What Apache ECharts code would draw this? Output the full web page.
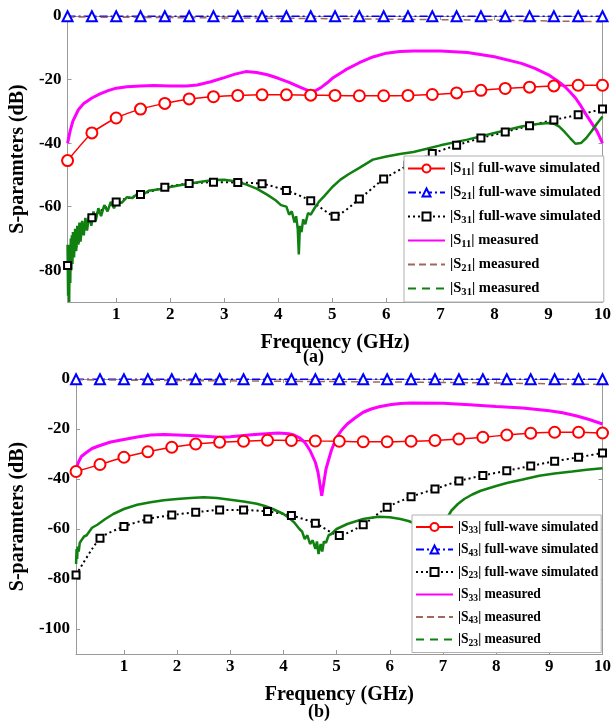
<!DOCTYPE html>
<html>
<head>
<meta charset="utf-8">
<title>S-parameters</title>
<script src="https://cdn.jsdelivr.net/npm/echarts@6.0.0/dist/echarts.min.js"></script>
<style>
  html, body { margin: 0; padding: 0; background: #fff; }
  #chart { width: 614px; height: 724px; }
</style>
</head>
<body>
<div id="chart"></div>
<script>
"use strict";

// marker positions of the full-wave simulated curves (GHz)
const simFreq = [0.1, 0.55, 1.0, 1.45, 1.9, 2.35, 2.8, 3.25, 3.7, 4.15, 4.6, 5.05,
  5.5, 5.95, 6.4, 6.85, 7.3, 7.75, 8.2, 8.65, 9.1, 9.55, 10.0];

// ---- (a) port 1 excitation ----
const s11SimA = [-45.5, -36.8, -32.1, -29.3, -27.5, -26.1, -25.4, -25.0, -24.8, -24.8, -24.9, -25.0,
  -25.1, -25.1, -25.0, -24.7, -24.2, -23.4, -22.8, -22.4, -22.0, -21.8, -21.8];
const s21SimA = [-0.1, -0.1, -0.1, -0.1, -0.1, -0.1, -0.1, -0.1, -0.1, -0.1, -0.1, -0.1,
  -0.1, -0.1, -0.1, -0.1, -0.1, -0.1, -0.1, -0.1, -0.1, -0.1, -0.1];
const s31SimA = [-78.5, -63.5, -58.5, -56.2, -53.9, -52.7, -52.3, -52.4, -52.8, -54.9, -58.1, -63.0,
  -57.6, -51.3, -47.0, -43.3, -40.7, -38.4, -36.5, -34.5, -32.7, -31.1, -29.3];

// measured, [GHz, dB]
const s11MeasA = [[0.1, -40], [0.15, -36], [0.2, -33], [0.3, -29.5], [0.4, -27.5], [0.55, -25.8],
  [0.7, -24.5], [0.85, -23.5], [1.0, -22.7], [1.2, -22.3], [1.45, -22.0], [1.7, -21.9], [2.0, -22.0],
  [2.3, -22.0], [2.5, -21.7], [2.75, -20.7], [3.0, -19.4], [3.2, -18.3], [3.4, -17.5], [3.6, -17.8],
  [3.8, -18.5], [4.0, -19.6], [4.2, -20.9], [4.4, -22.4], [4.5, -23.1], [4.6, -23.8], [4.7, -23.4],
  [4.8, -22.4], [4.9, -21.1], [5.0, -19.6], [5.25, -16.9], [5.5, -14.7], [5.75, -12.9], [6.0, -11.7],
  [6.25, -11.2], [6.5, -11.0], [7.0, -11.0], [7.5, -11.5], [8.0, -12.8], [8.5, -14.9], [8.75, -16.5],
  [9.0, -18.5], [9.15, -20.2], [9.3, -22.2], [9.4, -23.9], [9.5, -25.8], [9.6, -28.3], [9.7, -31.1],
  [9.8, -33.7], [9.9, -36.3], [10.0, -40]];
const s21MeasA = [[0.1, -0.3], [2, -0.5], [4, -0.7], [6, -1.0], [8, -1.3], [10, -1.8]];
const s31MeasA = [[0.10, -72], [0.11, -88], [0.12, -76], [0.13, -90], [0.14, -72], [0.15, -84],
  [0.16, -70], [0.17, -80], [0.18, -69], [0.19, -78], [0.20, -68], [0.22, -76], [0.24, -67],
  [0.26, -74], [0.28, -66], [0.30, -72], [0.32, -65], [0.34, -71], [0.37, -64.5], [0.40, -69],
  [0.43, -63.5], [0.46, -67.5], [0.50, -62.5], [0.54, -66], [0.58, -61.5], [0.62, -64.5],
  [0.67, -60.5], [0.72, -63], [0.78, -59.5], [0.84, -61.5], [0.90, -58.5], [0.96, -60.5],
  [1.0, -58.5], [1.1, -58.8], [1.2, -57], [1.3, -57.3], [1.4, -55.8], [1.5, -56.2], [1.6, -55],
  [1.8, -54.5], [2.0, -53.8], [2.2, -53.2], [2.4, -52.6], [2.6, -52.1], [2.8, -51.6], [3.0, -51.5],
  [3.2, -52], [3.4, -53], [3.6, -54.3], [3.8, -56.3], [3.95, -58], [4.05, -59.5], [4.15, -60],
  [4.2, -62.5], [4.25, -61.5], [4.3, -65], [4.33, -63], [4.36, -67], [4.38, -75], [4.40, -66],
  [4.43, -68], [4.46, -64], [4.5, -65.5], [4.55, -62], [4.6, -62.5], [4.67, -60.5], [4.75, -58.5],
  [4.85, -56.7], [5.0, -53.8], [5.15, -51.5], [5.3, -49.8], [5.5, -47.8], [5.75, -45.2], [6.0, -44.2],
  [6.25, -43.4], [6.5, -42.8], [6.75, -41.8], [7.0, -40.7], [7.5, -38.9], [8.0, -36.8], [8.5, -34.8],
  [8.8, -34.0], [9.0, -33.7], [9.1, -33.9], [9.2, -34.8], [9.3, -36.5], [9.4, -38.4], [9.5, -40.2],
  [9.6, -40.0], [9.7, -38.4], [9.8, -36.2], [9.9, -33.8], [10.0, -31.6]];

// ---- (b) port 3 excitation ----
const s33SimB = [-37.0, -34.2, -31.3, -29.1, -27.3, -26.0, -25.3, -24.9, -24.5, -24.6, -24.8, -24.9,
  -25.1, -25.1, -24.9, -24.6, -24.0, -23.3, -22.4, -21.7, -21.3, -21.3, -21.6];
const s43SimB = [-0.1, -0.1, -0.1, -0.1, -0.1, -0.1, -0.1, -0.1, -0.1, -0.1, -0.1, -0.1,
  -0.1, -0.1, -0.1, -0.1, -0.1, -0.1, -0.1, -0.1, -0.1, -0.1, -0.1];
const s23SimB = [-78.4, -63.7, -59.0, -56.0, -54.4, -53.3, -52.4, -52.4, -53.0, -54.6, -57.7, -62.6,
  -58.3, -51.3, -47.1, -44.0, -40.8, -38.6, -36.7, -34.8, -32.9, -31.3, -29.6];

const s33MeasB = [[0.1, -36], [0.15, -33], [0.2, -31], [0.3, -29.3], [0.4, -27.8], [0.55, -26.6],
  [0.75, -25.2], [1.0, -24.2], [1.25, -23.2], [1.5, -22.4], [1.75, -22.2], [2.0, -22.4], [2.25, -22.6],
  [2.5, -22.9], [2.8, -23.3], [3.0, -23.1], [3.2, -22.7], [3.4, -22.3], [3.6, -22.0], [3.9, -21.6],
  [4.1, -21.9], [4.2, -22.4], [4.3, -23.5], [4.4, -25.3], [4.5, -28.6], [4.6, -33.3], [4.65, -37.3],
  [4.7, -44], [4.72, -46.7], [4.75, -42.7], [4.8, -36], [4.9, -28.6], [5.0, -23.3], [5.1, -20.3],
  [5.2, -18], [5.35, -15.5], [5.5, -13.3], [5.65, -12], [5.8, -11.1], [6.0, -10.3], [6.2, -9.8],
  [6.4, -9.6], [7.0, -9.7], [7.5, -10.3], [8.0, -11.0], [8.5, -11.6], [9.0, -12.7], [9.25, -13.5],
  [9.5, -14.7], [9.75, -16.2], [10.0, -18]];
const s43MeasB = [[0.1, -0.3], [2, -0.6], [4, -0.9], [6, -1.2], [8, -1.6], [10, -2.2]];
const s23MeasB = [[0.1, -74], [0.11, -68], [0.12, -72], [0.13, -67], [0.15, -69], [0.17, -65.5],
  [0.2, -66], [0.25, -63], [0.3, -62.5], [0.4, -59.5], [0.5, -58.3], [0.65, -56], [0.8, -54],
  [1.0, -52], [1.25, -50.3], [1.5, -49.3], [1.75, -48.5], [2.0, -48], [2.25, -47.6], [2.5, -47.3],
  [2.75, -47.6], [3.0, -48.3], [3.25, -49], [3.5, -49.9], [3.65, -50.8], [3.8, -52], [3.9, -53],
  [4.0, -54], [4.1, -55.5], [4.2, -57.3], [4.3, -60], [4.35, -61], [4.4, -64], [4.45, -62.5],
  [4.5, -66], [4.55, -64.5], [4.6, -68], [4.63, -65], [4.66, -70], [4.7, -66], [4.73, -69],
  [4.76, -65], [4.8, -65.5], [4.85, -62.5], [4.9, -62], [5.0, -60], [5.1, -59], [5.2, -58],
  [5.35, -57], [5.5, -56], [5.65, -55.5], [5.8, -55.1], [6.0, -55.3], [6.2, -56], [6.35, -56.8],
  [6.5, -58], [6.6, -59], [6.7, -60], [6.75, -62], [6.8, -61], [6.85, -64.5], [6.9, -62],
  [6.95, -61.5], [7.0, -58.6], [7.08, -55.5], [7.16, -52.6], [7.28, -50], [7.4, -48], [7.55, -46.2],
  [7.71, -44.7], [8.0, -42.8], [8.2, -41.6], [8.5, -40.2], [8.81, -38.7], [9.1, -37.8], [9.43, -37.0],
  [9.7, -36.3], [10.0, -35.7]];

const namesA = ["|S11| full-wave simulated", "|S21| full-wave simulated", "|S31| full-wave simulated",
  "|S11| measured", "|S21| measured", "|S31| measured"];
const namesB = ["|S33| full-wave simulated", "|S43| full-wave simulated", "|S23| full-wave simulated",
  "|S33| measured", "|S43| measured", "|S23| measured"];

const FONT = '"Times New Roman", "Liberation Serif", serif';
const AXIS_GRAY = "#9a9a9a";
const DASH_DOT = [8, 3, 2, 3];

const zip = (xs, ys) => xs.map((x, i) => [x, ys[i]]);

function simSeries(name, idx, values, color, symbol, size, lineType, width) {
  return {
    name: name, type: "line", xAxisIndex: idx, yAxisIndex: idx,
    data: zip(simFreq, values), smooth: 0.2, clip: false,
    symbol: symbol, symbolSize: size, showAllSymbol: true,
    itemStyle: { color: color, borderWidth: 1.5 },
    lineStyle: { color: color, width: width, type: lineType }
  };
}

function measSeries(name, idx, data, color, lineType, width) {
  return {
    name: name, type: "line", xAxisIndex: idx, yAxisIndex: idx,
    data: data, symbol: "none", clip: false,
    itemStyle: { color: color },
    lineStyle: { color: color, width: width, type: lineType }
  };
}

function xAxis(idx, bottom) {
  return {
    type: "value", gridIndex: idx, min: 0.1, max: 10, minInterval: 1, maxInterval: 1,
    position: bottom ? "bottom" : "top",
    axisLine: { onZero: false, lineStyle: { color: AXIS_GRAY } },
    axisTick: { inside: true, length: 4, lineStyle: { color: AXIS_GRAY } },
    splitLine: { show: false },
    axisLabel: {
      show: bottom, margin: 4, color: "#000", fontFamily: FONT, fontWeight: "bold", fontSize: 17,
      formatter: v => (Math.abs(v - Math.round(v)) < 1e-6 ? String(Math.round(v)) : "")
    },
    name: bottom ? "Frequency (GHz)" : "", nameLocation: "middle", nameGap: 31,
    nameTextStyle: { color: "#000", fontFamily: FONT, fontWeight: "bold", fontSize: 20 }
  };
}

function yAxis(idx, min, left, gap) {
  return {
    type: "value", gridIndex: idx, min: min, max: 0, minInterval: 20, maxInterval: 20,
    position: left ? "left" : "right",
    axisLine: { show: true, onZero: false, lineStyle: { color: AXIS_GRAY } },
    axisTick: { show: true, inside: true, length: 4, lineStyle: { color: AXIS_GRAY } },
    splitLine: { show: false },
    axisLabel: {
      show: left, margin: 6, color: "#000", fontFamily: FONT, fontWeight: "bold", fontSize: 17,
      formatter: v => (v % 20 === 0 ? String(v) : "")
    },
    name: left ? "S-paramters (dB)" : "", nameLocation: "middle", nameGap: gap,
    nameTextStyle: { color: "#000", fontFamily: FONT, fontWeight: "bold", fontSize: 20 }
  };
}

// measured entries have no marker; the last one is drawn dashed in the key
function legendItem(n, i) {
  if (i < 3) return n;
  const item = { name: n, itemStyle: { color: "rgba(0,0,0,0)", borderWidth: 0, opacity: 0 } };
  if (i === 5) item.lineStyle = { type: [8, 6] };
  return item;
}

function legend(names, left, top, fontSize, gap) {
  return {
    orient: "vertical", left: left, top: top,
    data: names.map(legendItem),
    itemWidth: 37, itemHeight: 10, itemGap: gap,
    padding: [5, 3, 4, 3],
    borderColor: "#b0b0b0", borderWidth: 1, backgroundColor: "#fff",
    formatter: n => n.replace(/S(\d\d)/, "S{sub|$1}"),
    textStyle: {
      color: "#000", fontFamily: FONT, fontWeight: "bold", fontSize: fontSize,
      rich: { sub: { fontFamily: FONT, fontWeight: "bold", fontSize: fontSize - 4, padding: [8, 0, 0, 0] } }
    }
  };
}

const chart = echarts.init(document.getElementById("chart"));

chart.setOption({
  animation: false,
  backgroundColor: "#fff",
  grid: [
    { left: 58, right: 9, top: 16, height: 286 },
    { left: 68, right: 9, top: 379, height: 275 }
  ],
  xAxis: [xAxis(0, true), xAxis(1, true), xAxis(0, false), xAxis(1, false)],
  yAxis: [yAxis(0, -90, true, 32), yAxis(1, -110, true, 43), yAxis(0, -90, false, 0), yAxis(1, -110, false, 0)],
  legend: [legend(namesA, 404, 156, 14.6, 7), legend(namesB, 412, 515, 13.6, 6.5)],
  graphic: [
    { type: "text", left: 303, top: 348, style: { text: "(a)", fill: "#000", font: "bold 18px " + FONT } },
    { type: "text", left: 308, top: 703, style: { text: "(b)", fill: "#000", font: "bold 18px " + FONT } }
  ],
  series: [
    simSeries(namesA[0], 0, s11SimA, "#ff0000", "emptyCircle", 11, "solid", 1.5),
    simSeries(namesA[1], 0, s21SimA, "#0000ff", "emptyTriangle", 10, DASH_DOT, 1.5),
    simSeries(namesA[2], 0, s31SimA, "#000000", "emptyRect", 7, [2, 3], 2),
    measSeries(namesA[3], 0, s11MeasA, "#ff00ff", "solid", 3),
    measSeries(namesA[4], 0, s21MeasA, "#a0675a", [7, 4], 1.5),
    measSeries(namesA[5], 0, s31MeasA, "#108010", "solid", 2.5),

    simSeries(namesB[0], 1, s33SimB, "#ff0000", "emptyCircle", 11, "solid", 1.5),
    simSeries(namesB[1], 1, s43SimB, "#0000ff", "emptyTriangle", 10, DASH_DOT, 1.5),
    simSeries(namesB[2], 1, s23SimB, "#000000", "emptyRect", 7, [2, 3], 2),
    measSeries(namesB[3], 1, s33MeasB, "#ff00ff", "solid", 3),
    measSeries(namesB[4], 1, s43MeasB, "#a0675a", [7, 4], 1.5),
    measSeries(namesB[5], 1, s23MeasB, "#108010", "solid", 2.5)
  ]
});

window.addEventListener("resize", () => chart.resize());
</script>
</body>
</html>
